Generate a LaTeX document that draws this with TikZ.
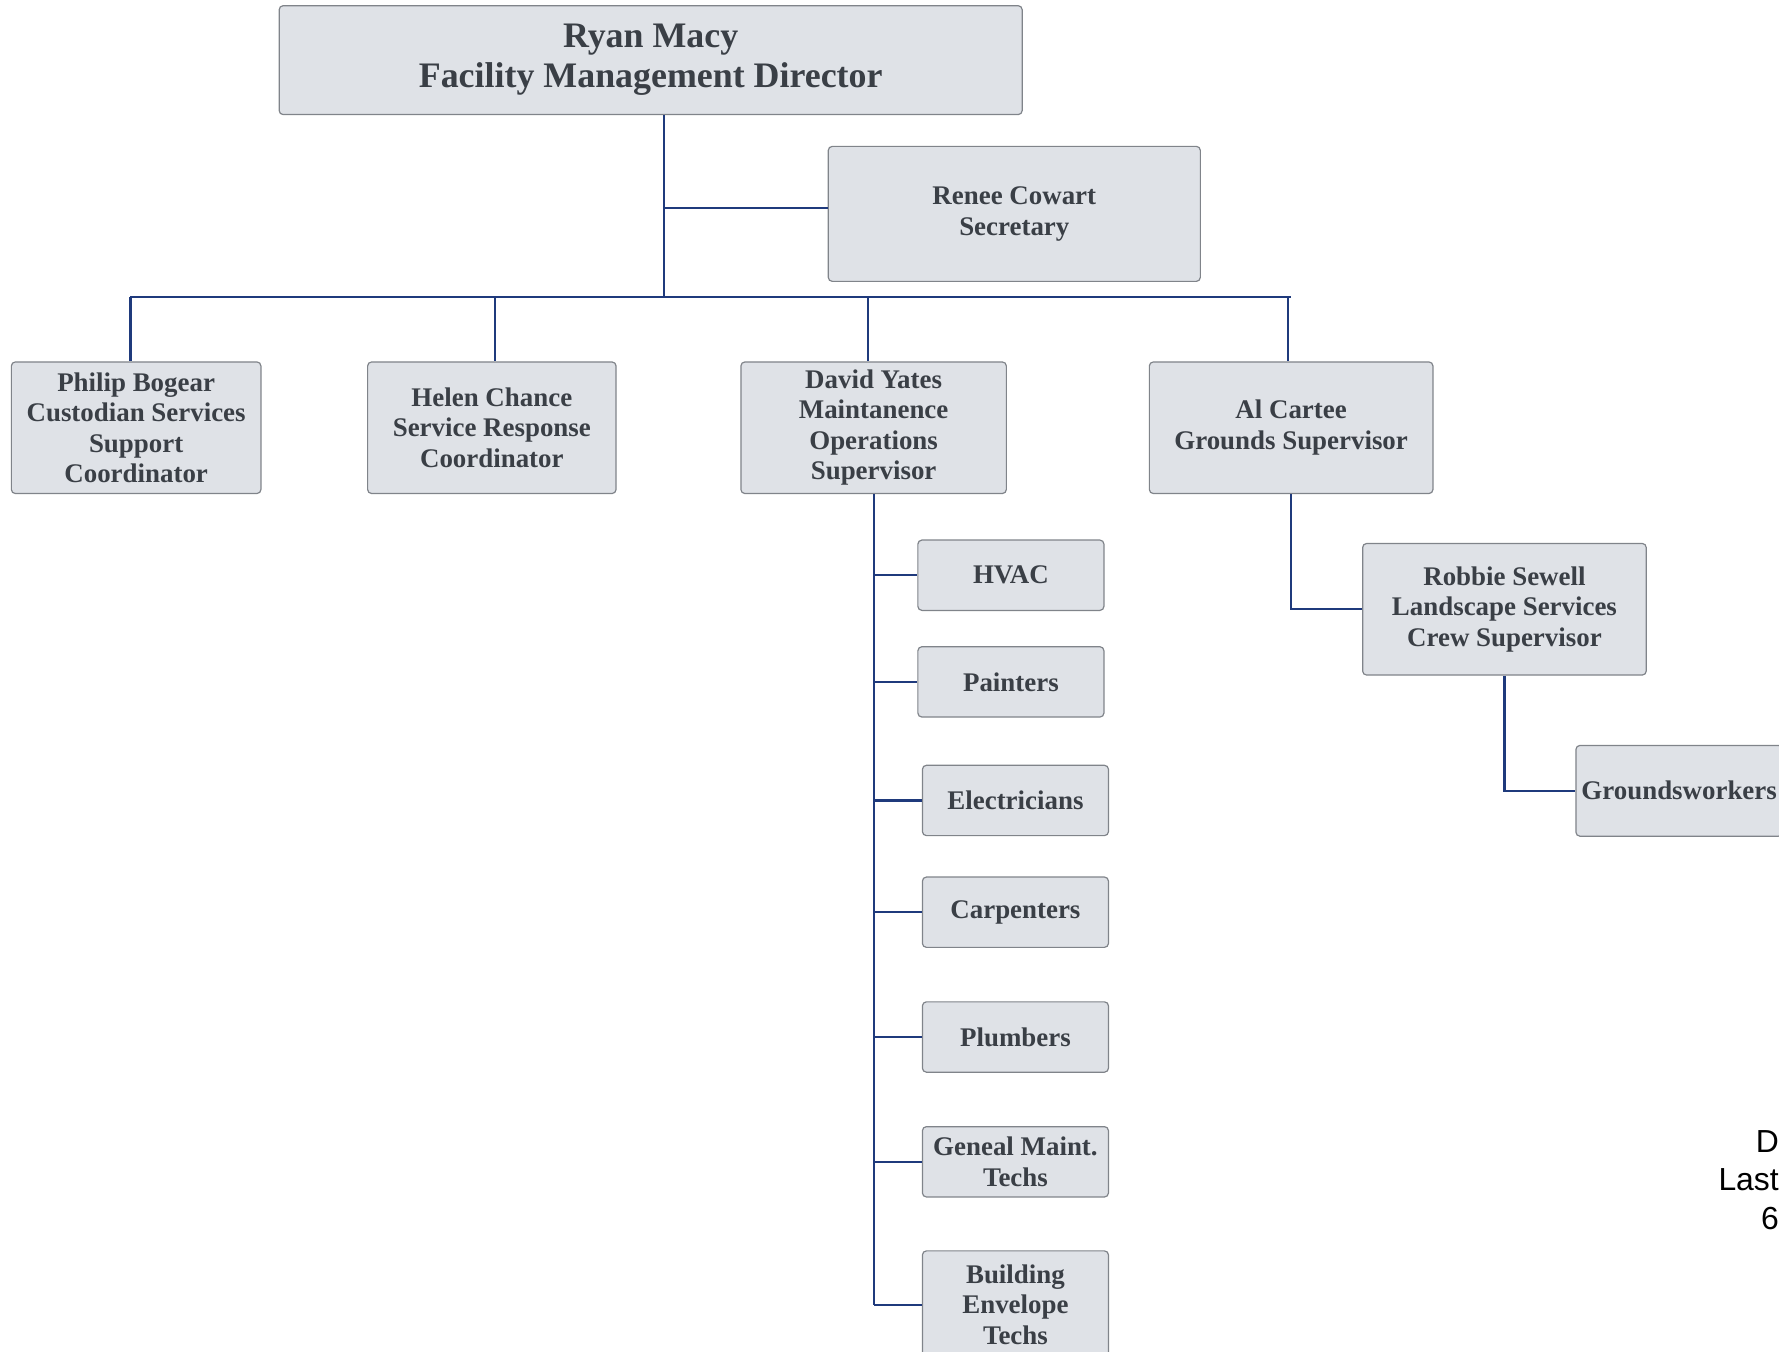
\documentclass[tikz,border=0pt]{standalone}
\usepackage{fontspec}
\setmainfont{Liberation Serif}
\newfontfamily\notefont{Liberation Sans}
\usepackage{tikz}
\usetikzlibrary{positioning}
\definecolor{boxfill}{HTML}{DFE2E7}
\definecolor{boxline}{HTML}{80848A}
\definecolor{boxtext}{HTML}{3A3F46}
\definecolor{linkblue}{HTML}{1F3A7C}
\tikzset{
	staff/.style={draw=boxline, line width=0.6pt, fill=boxfill, rounded corners=2pt,
		text=boxtext, align=center, inner sep=2pt,
		font=\bfseries\fontsize{13.5}{15.3}\selectfont},
	head/.style={staff, font=\bfseries\fontsize{18}{20}\selectfont},
	link/.style={draw=linkblue, line width=1.1pt},
}
\begin{document}
\begin{tikzpicture}[x=0.02cm, y=-0.02cm]
		\clip (0,0) rectangle (1568,1191);
		
		\node[head, minimum width=13.1cm, minimum height=1.92cm] (ceo) at (573.5,53) {Ryan Macy\\Facility Management Director};
		\node[staff, minimum width=6.56cm, minimum height=2.38cm] (sec) at (894,188.5) {Renee Cowart\\Secretary};
		
		\node[staff, minimum width=4.4cm, minimum height=2.32cm] (philip) at (120,377) {Philip Bogear\\Custodian Services\\Support\\Coordinator};
		\node[staff, minimum width=4.38cm, minimum height=2.32cm] (helen) at (433.5,377) {Helen Chance\\Service Response\\Coordinator};
		\node[staff, minimum width=4.68cm, minimum height=2.32cm] (david) at (770,377) {David Yates\\Maintanence\\Operations\\Supervisor};
		\node[staff, minimum width=5cm, minimum height=2.32cm] (al) at (1138,377) {Al Cartee\\Grounds Supervisor};
		
		\node[staff, minimum width=3.28cm, minimum height=1.24cm] (hvac) at (891,507) {HVAC};
		\node[staff, minimum width=3.28cm, minimum height=1.24cm] (paint) at (891,601) {Painters};
		\node[staff, minimum width=3.28cm, minimum height=1.24cm] (elec) at (895,705.5) {Electricians};
		\node[staff, minimum width=3.28cm, minimum height=1.24cm] (carp) at (895,804) {Carpenters};
		\node[staff, minimum width=3.28cm, minimum height=1.24cm] (plumb) at (895,914) {Plumbers};
		\node[staff, minimum width=3.28cm, minimum height=1.24cm] (gen) at (895,1024) {Geneal Maint.\\Techs};
		\node[staff, minimum width=3.28cm, minimum height=1.9cm] (build) at (895,1150) {Building\\Envelope\\Techs};
		
		\node[staff, minimum width=5cm, minimum height=2.32cm] (robbie) at (1326,537) {Robbie Sewell\\Landscape Services\\Crew Supervisor};
		\node[staff, minimum width=3.64cm, minimum height=1.6cm] (ground) at (1480,697) {Groundsworkers};
		
		\node[anchor=east, align=right, font=\notefont\fontsize{16}{19.2}\selectfont] (note) at (1574,1040) {D\\Last\\6};
		
		% director and secretary
		\coordinate (hub) at (585,262);
		\draw[link] (ceo.south -| hub) -- (hub);
		\draw[link] ([yshift=0.1cm]hub |- sec.west) -- ([yshift=0.1cm]sec.west);
		
		% second row
		\draw[link] ([xshift=-0.1cm]philip.north |- hub) -- (al.north |- hub);
		\draw[link] ([xshift=-0.1cm]philip.north |- hub) -- ([xshift=-0.1cm]philip.north);
		\draw[link] ([xshift=0.05cm]helen.north |- hub) -- ([xshift=0.05cm]helen.north);
		\draw[link] ([xshift=-0.1cm]david.north |- hub) -- ([xshift=-0.1cm]david.north);
		\draw[link] ([xshift=-0.06cm]al.north |- hub) -- ([xshift=-0.06cm]al.north);
		
		% trades under maintanence
		\draw[link] (david.south) -- (david.south |- build.west);
		\foreach \n in {hvac,paint,elec,carp,plumb,gen,build}
			\draw[link] (david.south |- \n.west) -- (\n.west);
		
		% grounds
		\draw[link] (al.south) -- (al.south |- robbie.west) -- (robbie.west);
		\draw[link] (robbie.south) -- (robbie.south |- ground.west) -- (ground.west);
	\end{tikzpicture}
\end{document}
